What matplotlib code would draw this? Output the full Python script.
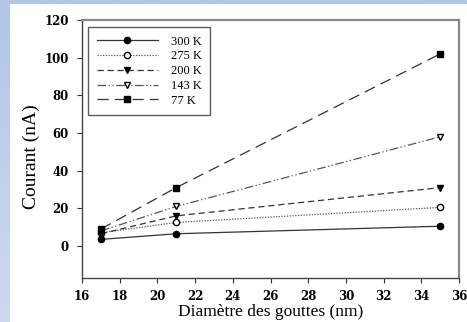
import matplotlib
matplotlib.use("Agg")
import matplotlib.pyplot as plt
import numpy as np
from matplotlib.patches import Rectangle
from matplotlib.colors import LinearSegmentedColormap

diameters = [17, 21, 35]
labels = ["300 K", "275 K", "200 K", "143 K", "77 K"]
i_300 = [3.5, 6.5, 10.5]
i_275 = [7.0, 12.5, 20.5]
i_200 = [6.5, 16.0, 31.0]
i_143 = [8.0, 21.0, 58.0]
i_77 = [9.0, 31.0, 102.0]
xticks = [16, 18, 20, 22, 24, 26, 28, 30, 32, 34, 36]
yticks = [0, 20, 40, 60, 80, 100, 120]

plt.rcParams['font.family'] = ['Liberation Serif', 'DejaVu Serif']

fig = plt.figure(figsize=(4.67, 3.22), dpi=100)
fig.patch.set_facecolor('white')

# blue gradient background frame
bg = fig.add_axes([0, 0, 1, 1], zorder=-10)
grad = np.linspace(0, 1, 256).reshape(-1, 1)
cm = LinearSegmentedColormap.from_list('bg', ['#b3c6e7', '#ccd9ef'])
bg.imshow(grad, aspect='auto', cmap=cm, extent=[0, 1, 0, 1], origin='upper')
bg.add_patch(Rectangle((10/467, 0), 1 - 10/467, 1 - 4/322, facecolor='white', edgecolor='none'))
bg.set_xlim(0, 1); bg.set_ylim(0, 1)
bg.axis('off')

ax = fig.add_axes([82/467, 1 - 278/322, (459-82)/467, (278-20)/322])
ax.set_facecolor('white')

lc = '#333333'
mk = 4.5
ax.plot(diameters, i_300, color=lc, lw=0.9, ls='-', marker='o', ms=mk, mfc='black', mec='black', label=labels[0])
ax.plot(diameters, i_275, color='#555555', lw=0.9, ls=(0, (1, 1.2)), marker='o', ms=mk, mfc='white', mec='black', label=labels[1])
ax.plot(diameters, i_200, color=lc, lw=0.9, ls=(0, (5, 3)), marker='v', ms=mk+0.5, mfc='black', mec='black', label=labels[2])
ax.plot(diameters, i_143, color='#555555', lw=0.9, ls=(0, (7, 2, 1, 2, 1, 2)), marker='v', ms=mk+0.5, mfc='white', mec='black', label=labels[3])
ax.plot(diameters, i_77, color=lc, lw=0.9, ls=(0, (9, 5)), marker='s', ms=mk, mfc='black', mec='black', label=labels[4])

ax.set_xlim(16, 36)
ax.set_ylim(-17, 120)
ax.set_xticks(xticks)
ax.set_yticks(yticks)
ax.tick_params(direction='out', length=3.5, width=0.8, colors='#333333', labelcolor='black')
for lab in ax.get_xticklabels() + ax.get_yticklabels():
    lab.set_fontweight('bold')
    lab.set_fontfamily('DejaVu Serif')
    lab.set_fontsize(8.5)
ax.tick_params(axis='x', pad=5)
ax.tick_params(axis='y', pad=6)

for s in ['top', 'right']:
    ax.spines[s].set_color('#8a8a8a')
    ax.spines[s].set_linewidth(1.6)
for s in ['left', 'bottom']:
    ax.spines[s].set_color('#444444')
    ax.spines[s].set_linewidth(1.0)

ax.set_xlabel('Diamètre des gouttes (nm)', fontsize=12.5)
ax.xaxis.set_label_coords(0.5, -0.0995)
ax.set_ylabel('Courant (nA)', fontsize=14)
ax.yaxis.set_label_coords(-0.111, 0.47)

leg = ax.legend(loc='upper left', bbox_to_anchor=(0.016, 0.973), numpoints=1,
                handlelength=4.9, fontsize=9, frameon=True, fancybox=False,
                borderpad=0.7, labelspacing=0.22, handletextpad=1.0, borderaxespad=0)
leg.get_frame().set_edgecolor('#333333')
leg.get_frame().set_linewidth(1.0)

fig.savefig('out.png', dpi=100, facecolor=fig.get_facecolor())
